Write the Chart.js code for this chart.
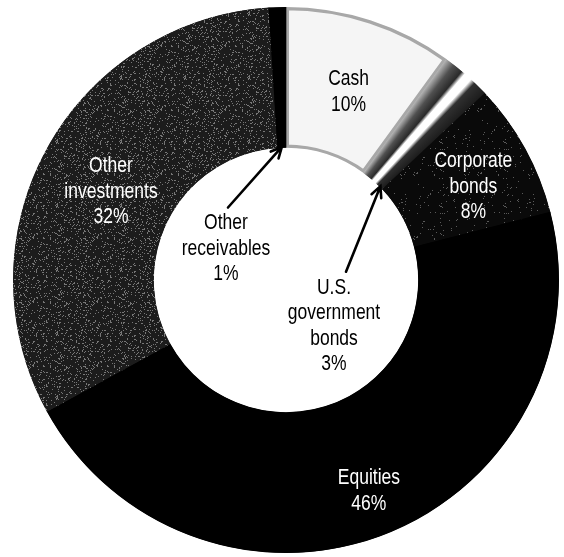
<!DOCTYPE html>
<html>
<head>
<meta charset="utf-8">
<script src="https://cdn.jsdelivr.net/npm/chart.js@4.4.1/dist/chart.umd.min.js"></script>
<style>
  html, body { margin: 0; padding: 0; background: #fff; }
  #wrap { width: 564px; height: 557px; }
</style>
</head>
<body>
<div id="wrap"><canvas id="chartAset"></canvas></div>
<script>
// data komposisi aset (persen)
const kategori = ['Cash', 'U.S. government bonds', 'Corporate bonds', 'Equities', 'Other investments', 'Other receivables'];
const persen = [10, 3, 8, 46, 32, 1];
const barisLabel = [
    ['Cash'],
    ['U.S.', 'government', 'bonds'],
    ['Corporate', 'bonds'],
    ['Equities'],
    ['Other', 'investments'],
    ['Other', 'receivables']
];

// gaya label: 'ring' = di dalam cincin, 'panah' = di lubang tengah dengan panah
const gayaLabel = [
    { mode: 'ring', warna: '#000', r: 0.5, geser: 5 },
    { mode: 'panah', warna: '#000', dx: 48, dy: 46, ujung: 0.85 },
    { mode: 'ring', warna: '#fff', r: 0.58, geser: 10 },
    { mode: 'ring', warna: '#fff', r: 0.66, geser: 2 },
    { mode: 'ring', warna: '#fff', r: 0.48, geser: 8 },
    { mode: 'panah', warna: '#000', dx: -60, dy: -31, ujung: 0.5 }
];

const warnaDasar = ['#f5f5f5', '#555555', '#111111', '#000000', '#262626', '#000000'];

// tekstur bintik untuk arsiran abu-abu
function buatBintik(dasar, bintik, jumlah) {
    const c = document.createElement('canvas');
    c.width = 64; c.height = 64;
    const g = c.getContext('2d');
    g.fillStyle = dasar;
    g.fillRect(0, 0, 64, 64);
    g.fillStyle = bintik;
    let s = 12345;
    const acak = () => { s = (s * 16807) % 2147483647; return s / 2147483647; };
    for (let i = 0; i < jumlah; i++) {
        g.fillRect(Math.floor(acak() * 64), Math.floor(acak() * 64), 1, 1);
    }
    return g.createPattern(c, 'repeat');
}

const total = persen.reduce((a, b) => a + b, 0);
let polaLain = null, polaKorporat = null;

function warnaIrisan(c) {
    const i = c.dataIndex;
    const chart = c.chart;
    const area = chart.chartArea;
    if (i === 4) return polaLain || (polaLain = buatBintik('#1c1c1c', '#777777', 520));
    if (i === 2) return polaKorporat || (polaKorporat = buatBintik('#0a0a0a', '#5a5a5a', 110));
    if (i !== 1 || !area) return warnaDasar[i];
    // pita obligasi pemerintah: gradien abu dengan garis putih
    const cx = (area.left + area.right) / 2;
    const cy = (area.top + area.bottom) / 2;
    const a0 = persen[0] / total;
    const w = persen[1] / total;
    const g = chart.ctx.createConicGradient(-Math.PI / 2, cx, cy);
    g.addColorStop(a0, '#b0b0b0');
    g.addColorStop(a0 + w * 0.18, '#505050');
    g.addColorStop(a0 + w * 0.38, '#2a2a2a');
    g.addColorStop(a0 + w * 0.46, '#ffffff');
    g.addColorStop(a0 + w * 0.62, '#ffffff');
    g.addColorStop(a0 + w * 0.72, '#303030');
    g.addColorStop(a0 + w, '#1c1c1c');
    return g;
}

function warnaTepi(c) {
    return c.dataIndex === 0 ? '#a8a8a8' : warnaIrisan(c);
}

function tulis(ctx, teks, x, y) {
    ctx.save();
    ctx.translate(x, y);
    ctx.scale(1, 1.22);
    ctx.fillText(teks, 0, 0);
    ctx.restore();
}

const labelPlugin = {
    id: 'labelAset',
    afterDatasetsDraw(chart) {
        const ctx = chart.ctx;
        const arcs = chart.getDatasetMeta(0).data;
        const tinggiBaris = 25.5;
        ctx.save();
        ctx.font = '17.5px "Liberation Sans", Arial, sans-serif';
        ctx.textAlign = 'center';
        ctx.textBaseline = 'middle';
        arcs.forEach((arc, i) => {
            const p = arc.getProps(['x', 'y', 'startAngle', 'endAngle', 'innerRadius', 'outerRadius'], true);
            const g = gayaLabel[i];
            const baris = barisLabel[i].concat([persen[i] + '%']);
            let tx, ty;
            if (g.mode === 'ring') {
                const sudut = (p.startAngle + p.endAngle) / 2;
                const r = p.innerRadius + g.r * (p.outerRadius - p.innerRadius);
                tx = p.x + Math.cos(sudut) * r;
                ty = p.y + Math.sin(sudut) * r + g.geser;
            } else {
                tx = p.x + g.dx;
                ty = p.y + g.dy;
                // panah ke tepi dalam irisan
                const sudut = p.startAngle + g.ujung * (p.endAngle - p.startAngle);
                const ex = p.x + Math.cos(sudut) * (p.innerRadius + 1);
                const ey = p.y + Math.sin(sudut) * (p.innerRadius + 1);
                const atas = ty - (baris.length - 1) / 2 * tinggiBaris;
                const sx = tx + (i === 1 ? 12 : 2);
                const sy = atas - 16;
                const arah = Math.atan2(ey - sy, ex - sx);
                ctx.strokeStyle = '#000';
                ctx.lineWidth = 2.6;
                ctx.lineCap = 'round';
                ctx.beginPath();
                ctx.moveTo(sx, sy);
                ctx.lineTo(ex, ey);
                ctx.moveTo(ex - Math.cos(arah - 0.45) * 12, ey - Math.sin(arah - 0.45) * 12);
                ctx.lineTo(ex, ey);
                ctx.lineTo(ex - Math.cos(arah + 0.45) * 12, ey - Math.sin(arah + 0.45) * 12);
                ctx.stroke();
            }
            ctx.fillStyle = g.warna;
            const awal = ty - (baris.length - 1) / 2 * tinggiBaris;
            baris.forEach((b, k) => tulis(ctx, b, tx, awal + k * tinggiBaris));
        });
        ctx.restore();
    }
};

new Chart(document.getElementById('chartAset'), {
    type: 'doughnut',
    data: {
        labels: kategori,
        datasets: [{
            data: persen,
            backgroundColor: warnaIrisan,
            borderColor: warnaTepi,
            borderWidth: [3, 1, 1, 1, 1, 1],
            borderAlign: 'inner'
        }]
    },
    options: {
        responsive: true,
        maintainAspectRatio: false,
        animation: false,
        cutout: '48.4%',
        layout: { padding: { left: 13, right: 5, top: 7, bottom: 4 } },
        plugins: {
            legend: { display: false },
            tooltip: { enabled: false }
        },
        events: []
    },
    plugins: [labelPlugin]
});
</script>
</body>
</html>
